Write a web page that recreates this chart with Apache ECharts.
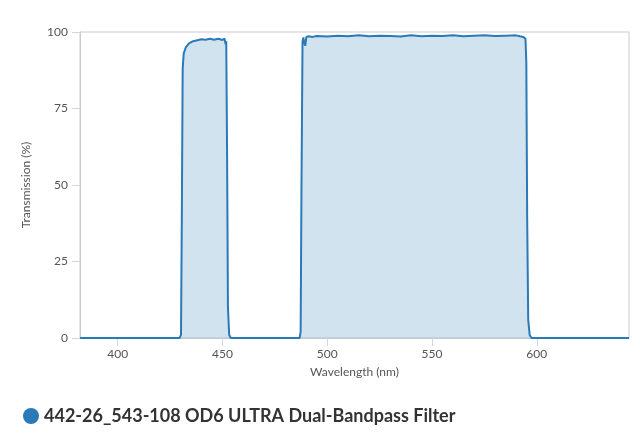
<!DOCTYPE html>
<html><head><meta charset="utf-8">
<script src="https://cdn.jsdelivr.net/npm/echarts@6/dist/echarts.min.js"></script>
<style>html,body{margin:0;background:#fff}#c{width:640px;height:446px}</style>
</head><body><div id="c"></div>
<script>
const wavelengths = [382,429.5,430.2,430.6,431,431.5,432.5,434,436,438,440,442,444,446,448,450,451,451.5,451.8,452.2,452.6,453.2,454,486.8,487.3,487.7,488.2,488.6,489,489.5,490,491,493,495,500,505,510,515,520,525,530,535,540,545,550,555,560,565,570,575,580,585,590,592,593.5,594.3,594.6,595,595.4,595.9,596.6,597.5,644];
const transmission = [0,0,1,40,88,93,95,96.3,97,97.3,97.6,97.5,97.8,97.5,97.8,97.4,97.8,96,97,60,10,1,0,0,2,50,97,98.2,96.5,95.5,98.3,98.6,98.4,98.7,98.5,98.8,98.6,98.9,98.6,98.8,98.7,98.5,98.9,98.6,98.8,98.7,98.9,98.6,98.8,98.9,98.7,98.8,98.9,98.6,98.4,98.7,97.8,90,40,6,1,0,0];
const xTicks = [400,450,500,550,600];
const yTicks = [0,25,50,75,100];
const seriesName = '442-26_543-108 OD6 ULTRA Dual-Bandpass Filter';
const data = wavelengths.map((w,i)=>[w,transmission[i]]);
const chart = echarts.init(document.getElementById('c'));
const font = 'Lato, "Open Sans", sans-serif';
chart.setOption({
  animation:false,
  grid:{left:80,right:11,top:32,bottom:108,show:true,borderColor:'#c8ccd2',borderWidth:1},
  xAxis:{type:'value',min:382,max:644,name:'Wavelength (nm)',nameLocation:'middle',nameGap:28,
    nameTextStyle:{color:'#555',fontSize:12,fontFamily:font},
    axisLine:{show:true,lineStyle:{color:'#c8ccd2'}},
    axisTick:{show:true,customValues:xTicks,length:8,lineStyle:{color:'#ccd6eb'}},
    axisLabel:{customValues:xTicks,color:'#555',fontSize:12,fontFamily:font,margin:10},
    splitLine:{show:false}},
  yAxis:{type:'value',min:0,max:100,interval:25,name:'Transmission (%)',nameLocation:'middle',nameGap:48,
    nameTextStyle:{color:'#555',fontSize:12,fontFamily:font},
    axisLine:{show:true,lineStyle:{color:'#c8ccd2'}},
    axisTick:{show:true,length:8,lineStyle:{color:'#ccd6eb'}},
    axisLabel:{color:'#555',fontSize:12,fontFamily:font,margin:12},
    splitLine:{show:false}},
  legend:{left:18,top:402,icon:'circle',itemWidth:16,itemHeight:16,itemGap:6,
    textStyle:{color:'#333',fontSize:18,fontWeight:'bold',fontFamily:font}},
  series:[{name:seriesName,type:'line',data:data,showSymbol:false,symbol:'circle',
    lineStyle:{color:'#2a7ab8',width:2},itemStyle:{color:'#2a7ab8'},
    areaStyle:{color:'rgba(42,122,184,0.3)'}}]
});
</script></body></html>
